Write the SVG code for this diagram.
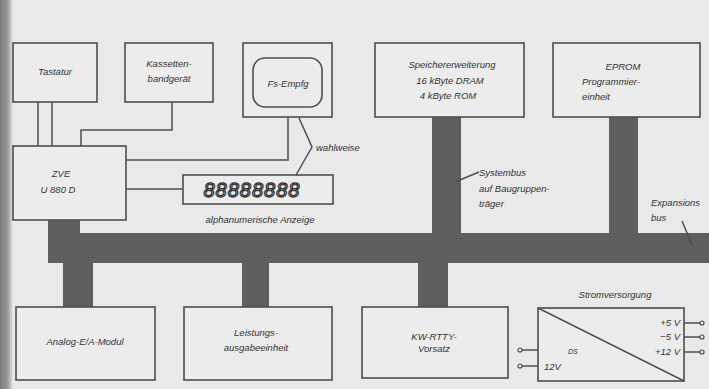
<svg xmlns="http://www.w3.org/2000/svg" width="709" height="389" viewBox="0 0 709 389">
<defs>
<linearGradient id="edge" x1="0" y1="0" x2="1" y2="0">
<stop offset="0" stop-color="#7a7a7a"/>
<stop offset="0.6" stop-color="#9a9a9a"/>
<stop offset="1" stop-color="#e9e9e9"/>
</linearGradient>
<style>
.box{fill:#ececec;stroke:#4e4e4e;stroke-width:1.6}
.ln{fill:none;stroke:#4e4e4e;stroke-width:1.5}
.bus{fill:#5e5e5e}
.t{font-family:"Liberation Sans",Arial,sans-serif;font-style:italic;font-size:9.5px;fill:#333}
.m{text-anchor:middle}
.pin{fill:#ececec;stroke:#4e4e4e;stroke-width:1.2}
</style>
</defs>
<rect width="709" height="389" fill="#e9e9e9"/>
<rect x="0" y="0" width="13" height="389" fill="url(#edge)"/>

<g id="connectors">
<rect class="bus" x="48" y="220" width="32" height="14"/>
<rect class="bus" x="48" y="233" width="661" height="30"/>
<rect class="bus" x="432" y="117" width="29" height="117"/>
<rect class="bus" x="609" y="117" width="29" height="117"/>
<rect class="bus" x="63" y="262" width="30" height="46"/>
<rect class="bus" x="242" y="262" width="27" height="46"/>
<rect class="bus" x="418" y="262" width="30" height="46"/>
<path class="ln" d="M38 102V146M52 102V146"/>
<path class="ln" d="M172 102V130H81V146"/>
<path class="ln" d="M126 160H288V117"/>
<path class="ln" d="M126 189H183"/>
<path class="ln" d="M299 118L312 147L296 175" stroke-width="1.2"/>
<path class="ln" d="M455 182L479 172" stroke-width="1"/>
<path class="ln" d="M682 221L692 245" stroke-width="1"/>
</g>

<g id="tastatur">
<rect class="box" x="13" y="43" width="84" height="59"/>
<text class="t m" x="55" y="75">Tastatur</text>
</g>
<g id="kassette">
<rect class="box" x="125" y="43" width="88" height="59"/>
<text class="t m" x="169" y="67">Kassetten-</text>
<text class="t m" x="169" y="82">bandgerät</text>
</g>
<g id="fs-empfg">
<rect class="box" x="243" y="43" width="89" height="74"/>
<rect class="box" x="253" y="58" width="69" height="49" rx="12"/>
<text class="t m" x="288" y="87">Fs-Empfg</text>
</g>
<g id="zve">
<rect class="box" x="13" y="146" width="113" height="74"/>
<text class="t m" x="61" y="177">ZVE</text>
<text class="t m" x="58" y="193">U 880 D</text>
</g>
<g id="anzeige">
<rect class="box" x="183" y="175" width="150" height="29"/>
<text x="252" y="197" text-anchor="middle" style="font-family:'Liberation Sans',Arial,sans-serif;font-style:italic;font-size:20px;fill:none;stroke:#3a3a3a;stroke-width:1.3" letter-spacing="1">88888888</text>
<text class="t m" x="260" y="223">alphanumerische Anzeige</text>
</g>
<g id="wahlweise">
<text class="t" x="316" y="151">wahlweise</text>
</g>
<g id="speicher">
<rect class="box" x="375" y="43" width="149" height="74"/>
<text class="t m" x="452" y="68">Speichererweiterung</text>
<text class="t m" x="450" y="84">16 kByte DRAM</text>
<text class="t m" x="448" y="99">4 kByte ROM</text>
</g>
<g id="eprom">
<rect class="box" x="553" y="43" width="147" height="74"/>
<text class="t m" x="623" y="70">EPROM</text>
<text class="t" x="582" y="85">Programmier-</text>
<text class="t" x="582" y="100">einheit</text>
</g>
<g id="systembus">
<text class="t" x="479" y="176">Systembus</text>
<text class="t" x="479" y="192">auf Baugruppen-</text>
<text class="t" x="479" y="207">träger</text>
</g>
<g id="expansionsbus">
<text class="t" x="651" y="206">Expansions</text>
<text class="t" x="651" y="221">bus</text>
</g>
<g id="analog">
<rect class="box" x="16" y="307" width="139" height="73"/>
<text class="t m" x="85" y="345">Analog-E/A-Modul</text>
</g>
<g id="leistung">
<rect class="box" x="184" y="307" width="148" height="73"/>
<text class="t m" x="256" y="336">Leistungs-</text>
<text class="t m" x="256" y="351">ausgabeeinheit</text>
</g>
<g id="kw-rtty">
<rect class="box" x="362" y="307" width="146" height="71"/>
<text class="t m" x="434" y="340">KW-RTTY-</text>
<text class="t m" x="434" y="352">Vorsatz</text>
</g>
<g id="stromversorgung">
<text class="t m" x="615" y="298">Stromversorgung</text>
<rect class="box" x="538" y="308" width="146" height="73"/>
<path class="ln" d="M538 308L684 381"/>
<path class="ln" d="M684 323H700M684 337H700M684 352H700M522 350H538M522 366H538" stroke-width="1.2"/>
<circle class="pin" cx="702" cy="323" r="2"/>
<circle class="pin" cx="702" cy="337" r="2"/>
<circle class="pin" cx="702" cy="352" r="2"/>
<circle class="pin" cx="520" cy="350" r="2"/>
<circle class="pin" cx="520" cy="366" r="2"/>
<text class="t" x="680" y="326" text-anchor="end">+5 V</text>
<text class="t" x="680" y="340" text-anchor="end">−5 V</text>
<text class="t" x="680" y="355" text-anchor="end">+12 V</text>
<text class="t" x="544" y="370">12V</text>
<text class="t" x="568" y="354" style="font-size:7px">DS</text>
</g>
</svg>
